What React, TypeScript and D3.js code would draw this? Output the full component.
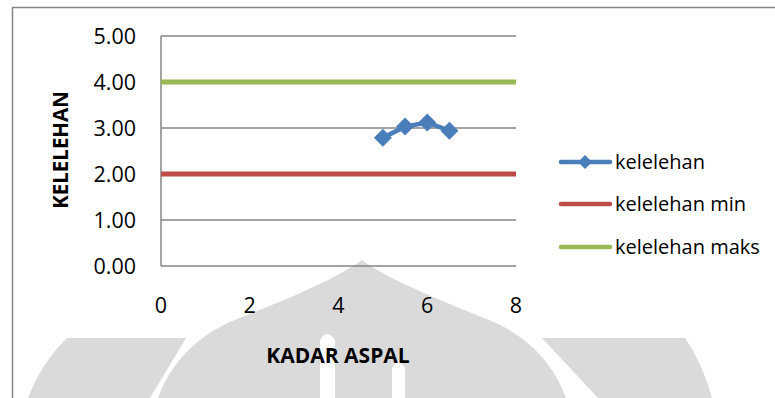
import React from "react";
import * as d3 from "d3";

const kadarAspal = [5, 5.5, 6, 6.5];
const kelelehan = [2.79, 3.03, 3.12, 2.94];
const minX = [0, 8];
const kelelehanMin = [2, 2];
const maksX = [0, 8];
const kelelehanMaks = [4, 4];
const yTicks = [0, 1, 2, 3, 4, 5];
const xTicks = [0, 2, 4, 6, 8];
const legendLabels = ["kelelehan", "kelelehan min", "kelelehan maks"];
const colors = ["#4A7EBB", "#BE4B48", "#98B954"];

export default function App() {
  const W = 775, H = 398;
  const x = d3.scaleLinear().domain([0, 8]).range([161, 516]);
  const y = d3.scaleLinear().domain([0, 5]).range([266, 36]);
  const line = d3.line<[number, number]>().x(d => x(d[0])).y(d => y(d[1]));
  const font = "'Open Sans', 'Liberation Sans', sans-serif";
  const diamond = (cx: number, cy: number, r: number) =>
    `M${cx},${cy - r}L${cx + r},${cy}L${cx},${cy + r}L${cx - r},${cy}Z`;
  const wm = "#dadada";
  const legendY = [162, 204, 247];

  return (
    <svg width={W} height={H} style={{ position: "absolute", left: 0, top: 0, background: "#fff" }}>
      {/* watermark */}
      <g fill={wm}>
        <path d="M67,338 L186,338 L150,398 L28,398 Q42,362 67,338 Z" />
        <path d="M362,260 C335,280 280,302 230,322 C190,340 168,370 158,398 L566,398 C556,370 534,340 494,322 C444,302 389,280 362,260 Z" />
        <path d="M542,338 L685,338 Q702,362 712,398 L598,398 Z" />
      </g>
      <g fill="#fff">
        <path d="M320,398 L320,340 Q327,328 335,340 L335,398 Z" />
        <path d="M392,398 L392,368 Q398,356 405,368 L405,398 Z" />
      </g>
      {/* frame */}
      <path d="M12.5,400 L12.5,7.5 L780,7.5" fill="none" stroke="#868686" strokeWidth={1.5} />
      {/* gridlines */}
      {yTicks.map(t => (
        <line key={t} x1={x(0)} x2={x(8)} y1={y(t)} y2={y(t)} stroke="#868686" strokeWidth={1.5} />
      ))}
      <line x1={x(0)} x2={x(0)} y1={y(0)} y2={y(5)} stroke="#868686" strokeWidth={1.5} />
      {/* y tick labels */}
      {yTicks.map(t => (
        <text key={t} x={136} y={y(t)} dy="0.36em" textAnchor="end" fontFamily={font} fontSize={21.5} fill="#000">
          {t.toFixed(2)}
        </text>
      ))}
      {xTicks.map(t => (
        <text key={t} x={x(t)} y={305} dy="0.36em" textAnchor="middle" fontFamily={font} fontSize={21.5} fill="#000">
          {t}
        </text>
      ))}
      {/* series */}
      <path d={line(maksX.map((v, i) => [v, kelelehanMaks[i]]) as any) || ""} fill="none" stroke={colors[2]} strokeWidth={5} />
      <path d={line(minX.map((v, i) => [v, kelelehanMin[i]]) as any) || ""} fill="none" stroke={colors[1]} strokeWidth={5} />
      <path d={line(kadarAspal.map((v, i) => [v, kelelehan[i]]) as any) || ""} fill="none" stroke={colors[0]} strokeWidth={4.5} strokeLinejoin="round" />
      {kadarAspal.map((v, i) => (
        <path key={i} d={diamond(x(v), y(kelelehan[i]), 9)} fill={colors[0]} />
      ))}
      {/* axis titles */}
      <text x={338} y={355} dy="0.36em" textAnchor="middle" fontFamily={font} fontWeight="bold" fontSize={21} fill="#000">
        KADAR ASPAL
      </text>
      <text transform="translate(61,150) rotate(-90)" dy="0.36em" textAnchor="middle" fontFamily={font} fontWeight="bold" fontSize={20.5} fill="#000">
        KELELEHAN
      </text>
      {/* legend */}
      {legendLabels.map((l, i) => (
        <g key={l}>
          <line x1={561} x2={610} y1={legendY[i]} y2={legendY[i]} stroke={colors[i]} strokeWidth={4.5} strokeLinecap="round" />
          {i === 0 && <path d={diamond(585, legendY[i], 7)} fill={colors[0]} />}
          <text x={615} y={legendY[i]} dy="0.36em" fontFamily={font} fontSize={20} fill="#000">{l}</text>
        </g>
      ))}
    </svg>
  );
}
